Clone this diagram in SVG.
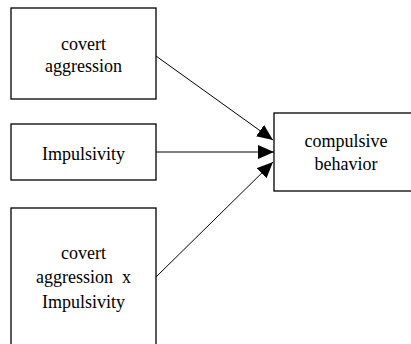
<svg xmlns="http://www.w3.org/2000/svg" width="411" height="344" viewBox="0 0 411 344">
<style>
.box{fill:#fff;stroke:#000;stroke-width:1.3}
.t{font-size:18px;fill:#000;text-anchor:middle}
.c{stroke:#000;stroke-width:1;fill:none}
</style>
<defs>
<marker id="ah" markerUnits="userSpaceOnUse" markerWidth="16" markerHeight="14" viewBox="0 0 16 14" refX="16" refY="7" orient="auto">
<path d="M0,0 L16,7 L0,14 Z" fill="#000"/>
</marker>
</defs>
<rect width="411" height="344" fill="#fff"/>
<g font-family="Liberation Serif, Times New Roman, serif">
<g id="n1"><rect class="box" x="11" y="8" width="145" height="91"/>
<text class="t" x="83.5" y="50">covert</text><text class="t" x="83.5" y="72">aggression</text></g>
<g id="n2"><rect class="box" x="11" y="124" width="145" height="56"/>
<text class="t" x="83.5" y="160">Impulsivity</text></g>
<g id="n3"><rect class="box" x="11" y="208" width="145" height="150"/>
<text class="t" x="83.5" y="259">covert</text><text class="t" x="83.5" y="283" xml:space="preserve">aggression  x</text><text class="t" x="83.5" y="308">Impulsivity</text></g>
<g id="n4"><rect class="box" x="274" y="113" width="145" height="78"/>
<text class="t" x="346" y="147">compulsive</text><text class="t" x="346" y="170">behavior</text></g>
</g>
<g id="connectors">
<line class="c" x1="156" y1="56" x2="273" y2="140" marker-end="url(#ah)"/>
<line class="c" x1="156" y1="152" x2="274" y2="152" marker-end="url(#ah)"/>
<line class="c" x1="156" y1="277" x2="273" y2="162" marker-end="url(#ah)"/>
</g>
</svg>
